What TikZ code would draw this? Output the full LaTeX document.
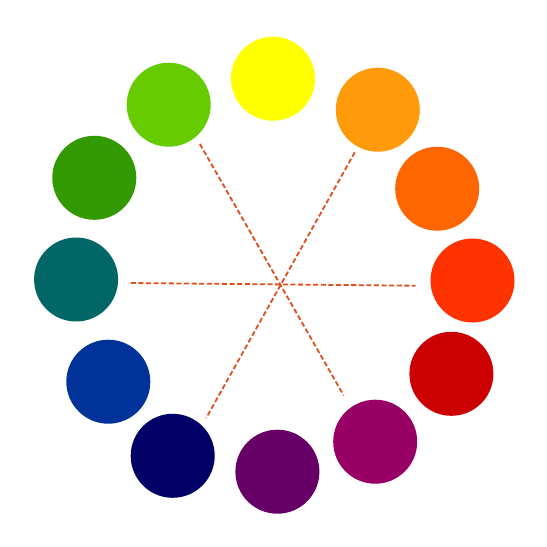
\documentclass[tikz,border=0pt]{standalone}
\begin{document}
\begin{tikzpicture}[x=1pt,y=-1pt,
  dot/.style={circle,inner sep=0pt,minimum size=84pt,draw=none},
  guide/.style={draw={rgb,255:red,224;green,78;blue,30},line width=1.8pt,dash pattern=on 5pt off 2.6pt}]
\useasboundingbox[fill=white] (0,0) rectangle (547,547);
\definecolor{cYellow}{HTML}{FFFF00}
\definecolor{cYellowGreen}{HTML}{66CC00}
\definecolor{cOrangeYellow}{HTML}{FF9A0A}
\definecolor{cGreen}{HTML}{339900}
\definecolor{cOrange}{HTML}{FF6600}
\definecolor{cTeal}{HTML}{006666}
\definecolor{cRedOrange}{HTML}{FF3300}
\definecolor{cRed}{HTML}{CC0000}
\definecolor{cBlue}{HTML}{003399}
\definecolor{cNavy}{HTML}{000066}
\definecolor{cPurple}{HTML}{660066}
\definecolor{cMagenta}{HTML}{990066}
\node[dot,fill=cYellow] (yellow) at (273,78.7) {};
\node[dot,fill=cYellowGreen] (yellowgreen) at (168.7,104.7) {};
\node[dot,fill=cOrangeYellow] (orangeyellow) at (377.8,109.7) {};
\node[dot,fill=cGreen] (green) at (94.3,177.8) {};
\node[dot,fill=cOrange] (orange) at (437.2,188.7) {};
\node[dot,fill=cTeal] (teal) at (76.1,279.5) {};
\node[dot,fill=cRedOrange] (redorange) at (472.5,280.5) {};
\node[dot,fill=cBlue] (blue) at (108.3,381.7) {};
\node[dot,fill=cRed] (red) at (451.4,373.8) {};
\node[dot,fill=cNavy] (navy) at (172.7,455.8) {};
\node[dot,fill=cPurple] (purple) at (277.4,471.7) {};
\node[dot,fill=cMagenta] (magenta) at (375.2,441.7) {};
\coordinate (a1) at (199.9,144);
\coordinate (a2) at (343.6,395.3);
\coordinate (b1) at (354.8,152.3);
\coordinate (b2) at (206.2,418);
\coordinate (c1) at (130.8,283);
\coordinate (c2) at (415.5,285.7);
\draw[guide] (a1) -- (a2);
\draw[guide] (b1) -- (b2);
\draw[guide] (c1) -- (c2);
\end{tikzpicture}
\end{document}
